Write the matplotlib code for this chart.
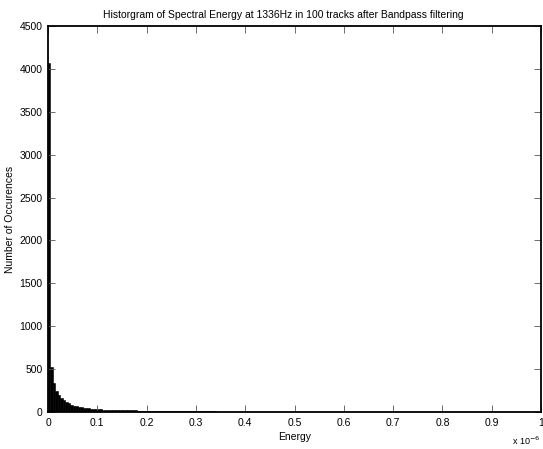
import matplotlib
matplotlib.use("Agg")
import matplotlib.pyplot as plt
import numpy as np

plt.rcParams['font.family'] = ['Liberation Sans', 'DejaVu Sans']

# Histogram: bin width 0.005 (x 10^-6), range 0..1 (x 10^-6)
bin_width = 0.005
counts = [
    4070, 530, 340, 240, 200, 165, 140, 120, 100, 85,
    75, 68, 60, 55, 50, 46, 42, 38, 35, 32,
    32, 30, 29, 28, 27, 26, 25, 24, 23, 22,
    21, 20, 20, 19, 18, 18, 17, 16, 16, 15,
    15, 14, 14, 13, 13, 12, 12, 11, 11, 10,
    10, 10, 9, 9, 9, 8, 8, 8, 8, 7,
    7, 7, 7, 6, 6, 6, 6, 6, 5, 5,
    5, 5, 5, 5, 4, 4, 4, 4, 4, 4,
    4, 4, 3, 3, 3, 3, 3, 3, 3, 3,
    3, 2, 2, 2, 2, 2, 2, 2, 2, 2,
    2, 2, 2, 2, 2, 1, 1, 2, 1, 1,
    1, 1, 1, 1, 1, 1, 1, 1, 1, 1,
    1, 1, 1, 1, 0, 1, 1, 0, 1, 1,
    0, 1, 0, 1, 0, 1, 1, 0, 0, 1,
    0, 1, 0, 0, 1, 0, 0, 1, 0, 0,
    0, 1, 0, 0, 0, 1, 0, 0, 0, 0,
    0, 0, 1, 0, 0, 0, 0, 1, 0, 0,
    0, 0, 0, 0, 1, 0, 0, 0, 0, 0,
    0, 0, 0, 0, 1, 0, 0, 0, 0, 0,
    0, 0, 0, 0, 0, 0, 0, 0, 0, 1,
]
x_ticks = [0, 0.1, 0.2, 0.3, 0.4, 0.5, 0.6, 0.7, 0.8, 0.9, 1]
x_tick_labels = ['0', '0.1', '0.2', '0.3', '0.4', '0.5', '0.6', '0.7', '0.8', '0.9', '1']
y_ticks = [0, 500, 1000, 1500, 2000, 2500, 3000, 3500, 4000, 4500]

title = 'Historgram of Spectral Energy at 1336Hz in 100 tracks after Bandpass filtering'

fig = plt.figure(figsize=(5.43, 4.49), dpi=100)
ax = fig.add_axes([48/543, 1-412/449, (541-48)/543, (412-26)/449])

lefts = np.arange(len(counts)) * bin_width
ax.bar(lefts, counts, width=bin_width, align='edge', color='black',
       edgecolor='black', linewidth=0.4)

ax.set_xlim(0, 1)
ax.set_ylim(0, 4500)
ax.set_xticks(x_ticks)
ax.set_xticklabels(x_tick_labels)
ax.set_yticks(y_ticks)
ax.tick_params(direction='in', length=5, width=0.6, color='#555555',
               top=True, right=True, labelsize=7.5, pad=4)
for s in ax.spines.values():
    s.set_linewidth(1.3)
    s.set_color('black')

ax.set_title(title, fontsize=7.5, pad=6, x=0.478)
ax.set_xlabel('Energy', fontsize=7.5, labelpad=3)
ax.set_ylabel('Number of Occurences', fontsize=7.5, labelpad=3)
fig.text(512/543, 1-441/449, r'x 10$^{-6}$', fontsize=6.5, ha='left', va='center')

fig.savefig('out.png', dpi=100)
